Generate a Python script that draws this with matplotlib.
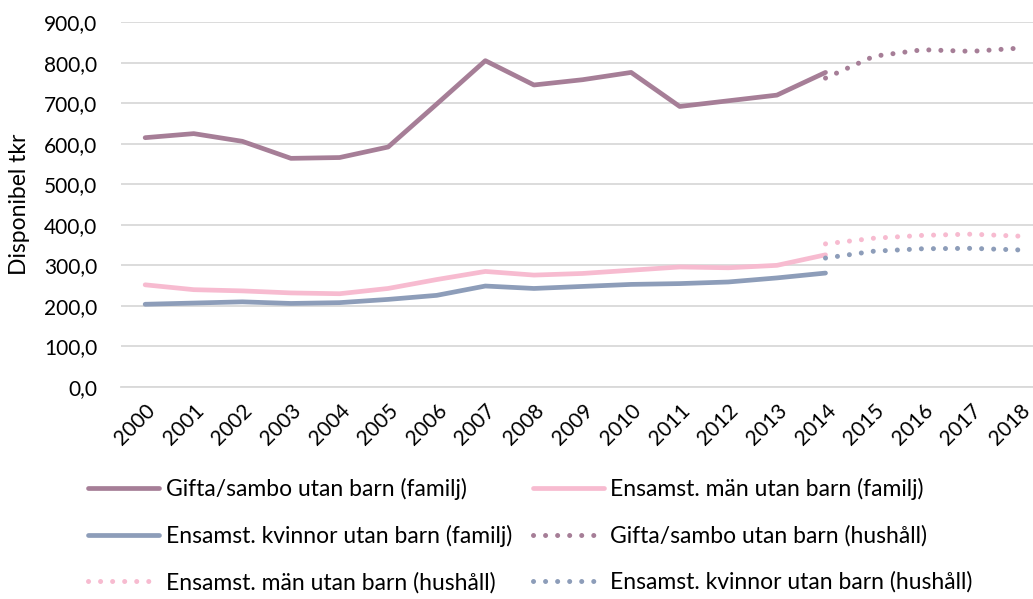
import matplotlib
matplotlib.use("Agg")
import matplotlib.pyplot as plt
from matplotlib.ticker import FuncFormatter

plt.rcParams['font.family'] = ['Lato', 'DejaVu Sans']

years = [str(y) for y in range(2000, 2019)]

# familj-series 2000-2014
gifta_familj = [615, 625, 606, 564, 566, 592, 698, 805, 745, 758, 776, 692, 706, 720, 776]
man_familj = [252, 240, 237, 232, 230, 243, 265, 285, 276, 280, 288, 296, 294, 300, 326]
kvinnor_familj = [204, 207, 210, 206, 208, 216, 226, 249, 243, 248, 253, 255, 259, 269, 281]

# hushåll-series 2014-2018
gifta_hushall = [762, 816, 832, 828, 836]
man_hushall = [353, 367, 374, 377, 372]
kvinnor_hushall = [318, 335, 341, 342, 338]

labels = ['Gifta/sambo utan barn (familj)', 'Ensamst. män utan barn (familj)',
          'Ensamst. kvinnor utan barn (familj)', 'Gifta/sambo utan barn (hushåll)',
          'Ensamst. män utan barn (hushåll)', 'Ensamst. kvinnor utan barn (hushåll)']

c_gifta = '#A67E97'
c_man = '#F7BBD0'
c_kvinnor = '#8D9DB9'

fig = plt.figure(figsize=(10.33, 5.99), dpi=100)
ax = fig.add_axes([0.117, 0.354, 0.883, 0.609])

x_fam = list(range(len(gifta_familj)))
x_hh = list(range(14, 14 + len(gifta_hushall)))
dots = (0, (0.01, 2.4))

l1, = ax.plot(x_fam, gifta_familj, color=c_gifta, lw=3.4, solid_capstyle='round')
l2, = ax.plot(x_fam, man_familj, color=c_man, lw=3.4, solid_capstyle='round')
l3, = ax.plot(x_fam, kvinnor_familj, color=c_kvinnor, lw=3.4, solid_capstyle='round')
l4, = ax.plot(x_hh, gifta_hushall, color=c_gifta, lw=3.6, ls=dots, dash_capstyle='round')
l5, = ax.plot(x_hh, man_hushall, color=c_man, lw=3.6, ls=dots, dash_capstyle='round')
l6, = ax.plot(x_hh, kvinnor_hushall, color=c_kvinnor, lw=3.6, ls=dots, dash_capstyle='round')

ax.set_xlim(-0.5, 18.27)
ax.set_ylim(0, 900)
ax.set_yticks(range(0, 901, 100))
ax.yaxis.set_major_formatter(FuncFormatter(lambda v, p: f"{v:.1f}".replace('.', ',')))
ax.set_xticks(range(len(years)))
ax.set_xticklabels(years, rotation=45, ha='right', rotation_mode='anchor')
ax.tick_params(axis='both', length=0, labelsize=15, colors='black')
ax.tick_params(axis='y', pad=17)
ax.tick_params(axis='x', pad=10)
ax.grid(axis='y', color='#D9D9D9', lw=1.3)
ax.set_axisbelow(True)
for s in ['top', 'right', 'left']:
    ax.spines[s].set_visible(False)
ax.spines['bottom'].set_color('#D9D9D9')
ax.spines['bottom'].set_linewidth(1.3)
ax.set_ylabel('Disponibel tkr', fontsize=16.5)
ax.yaxis.set_label_coords(-0.1, 0.5)

handles = [l1, l3, l5, l2, l4, l6]
hlabels = [labels[0], labels[2], labels[4], labels[1], labels[3], labels[5]]
fig.legend(handles, hlabels, loc='upper left', bbox_to_anchor=(0.065, 0.236), ncol=2,
           frameon=False, fontsize=16.5, handlelength=3.1, handletextpad=0.3,
           columnspacing=0.9, labelspacing=1.08)

fig.savefig('out.png', dpi=100)
